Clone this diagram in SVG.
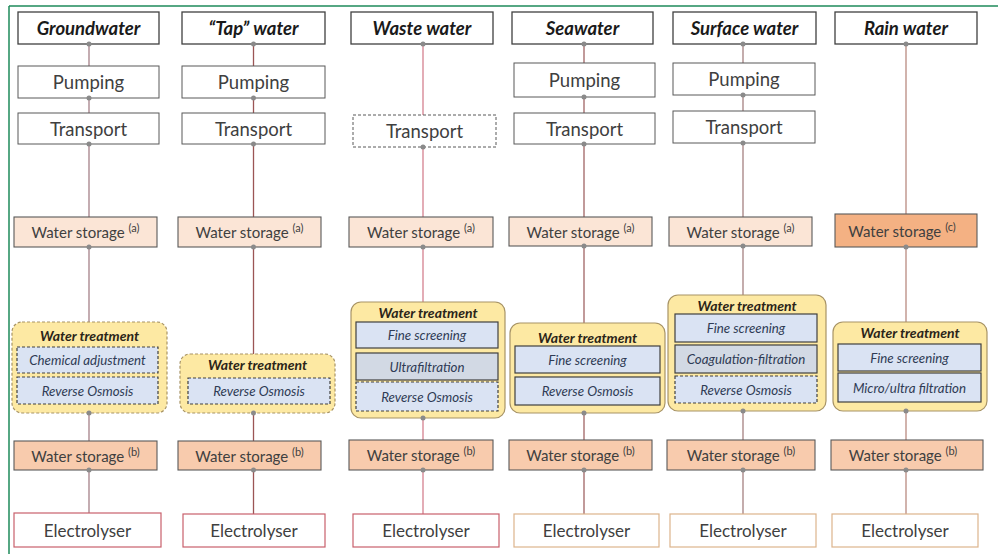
<svg xmlns="http://www.w3.org/2000/svg" width="998" height="554" viewBox="0 0 998 554">
<style>
  text { font-family: Lato, "Liberation Sans", sans-serif; text-anchor: middle; dominant-baseline: central; }
  .hdr rect { fill: #fff; stroke: #404040; stroke-width: 1.3; }
  .hdr text { font-size: 18.5px; font-weight: bold; font-style: italic; fill: #1a1a1a; }
  .step rect { fill: #fff; stroke: #595959; stroke-width: 1; }
  .step text { font-size: 18.5px; fill: #404040; }
  .dash rect { stroke-dasharray: 3 2; }
  .stA rect { fill: #fbe5d6; stroke: #595959; stroke-width: 1.1; }
  .stB rect { fill: #f8cbad; stroke: #595959; stroke-width: 1.1; }
  .stC rect { fill: #f4b183; stroke: #595959; stroke-width: 1.1; }
  .st text { font-size: 15px; fill: #404040; }
  .sup { font-size: 11px; }
  .wt > rect { fill: #fde9a3; stroke: #a89466; stroke-width: 1.2; }
  .wt.dashed > rect { stroke-dasharray: 3 2; }
  .wt > text { font-size: 14px; font-weight: bold; font-style: italic; fill: #2a2418; }
  .in rect { fill: #dae3f3; stroke: #404040; stroke-width: 1.2; }
  .in.grey rect { fill: #d2d9e4; }
  .in.dash rect { stroke-dasharray: 3 2; }
  .in text { font-size: 13.3px; font-style: italic; fill: #2f3b55; }
  .el rect { fill: #fff; stroke-width: 1.2; }
  .el.r rect { stroke: #c8606c; }
  .el.t rect { stroke: #dcb48c; }
  .el text { font-size: 17px; fill: #404040; }
  .conn line { stroke-width: 1.3; }
  .dot { fill: #8a8a8a; }
</style>

<g id="frame">
  <line x1="9" y1="6" x2="998" y2="6" stroke="#1e8a5a" stroke-width="1.5"/>
  <line x1="9" y1="6" x2="9" y2="554" stroke="#1e8a5a" stroke-width="1.5"/>
</g>

<g id="connectors" class="conn">
  <g stroke="#a58088">
    <line x1="89" y1="44" x2="89" y2="66"/>
    <line x1="89" y1="98" x2="89" y2="113"/>
    <line x1="89" y1="144" x2="89" y2="217"/>
    <line x1="89" y1="247" x2="89" y2="322"/>
    <line x1="89" y1="413" x2="89" y2="441"/>
    <line x1="89" y1="470" x2="89" y2="513"/>
  </g>
  <g stroke="#9b5555">
    <line x1="253.5" y1="44" x2="253.5" y2="66"/>
    <line x1="253.5" y1="98" x2="253.5" y2="113"/>
    <line x1="253.5" y1="144" x2="253.5" y2="217"/>
    <line x1="253.5" y1="247" x2="253.5" y2="354"/>
    <line x1="253.5" y1="413" x2="253.5" y2="441"/>
    <line x1="253.5" y1="470" x2="253.5" y2="514"/>
  </g>
  <g stroke="#d4808f">
    <line x1="423" y1="44" x2="423" y2="115"/>
    <line x1="423" y1="147" x2="423" y2="217"/>
    <line x1="423" y1="247" x2="423" y2="302"/>
    <line x1="423" y1="418" x2="423" y2="440"/>
    <line x1="423" y1="470" x2="423" y2="514"/>
  </g>
  <g stroke="#a06464">
    <line x1="584" y1="44" x2="584" y2="63"/>
    <line x1="584" y1="97" x2="584" y2="113"/>
    <line x1="584" y1="144" x2="584" y2="217"/>
    <line x1="584" y1="246" x2="584" y2="323"/>
    <line x1="584" y1="413" x2="584" y2="440"/>
    <line x1="584" y1="470" x2="584" y2="514"/>
  </g>
  <g stroke="#a58080">
    <line x1="743" y1="44" x2="743" y2="63"/>
    <line x1="743" y1="95" x2="743" y2="111"/>
    <line x1="743" y1="143" x2="743" y2="217"/>
    <line x1="743" y1="246" x2="743" y2="295"/>
    <line x1="743" y1="411" x2="743" y2="440"/>
    <line x1="743" y1="470" x2="743" y2="514"/>
  </g>
  <g stroke="#b88a80">
    <line x1="906" y1="44" x2="906" y2="214"/>
    <line x1="906" y1="247" x2="906" y2="322"/>
    <line x1="906" y1="411" x2="906" y2="440"/>
    <line x1="906" y1="470" x2="906" y2="514"/>
  </g>
</g>

<!-- Column 1: Groundwater -->
<g id="gw-head" class="hdr"><rect x="18" y="12" width="141" height="32"/><text x="88.5" y="28">Groundwater</text></g>
<g id="gw-pump" class="step"><rect x="18" y="66" width="141" height="32"/><text x="88.5" y="82">Pumping</text></g>
<g id="gw-trans" class="step"><rect x="18" y="113" width="141" height="31"/><text x="88.5" y="128.5">Transport</text></g>
<g id="gw-stA" class="st stA"><rect x="14" y="217" width="143" height="30"/><text x="85.5" y="232">Water storage <tspan class="sup" dy="-5">(a)</tspan></text></g>
<g id="gw-wt" class="wt dashed"><rect x="12" y="322" width="155" height="91" rx="10"/><text x="89.5" y="335">Water treatment</text>
  <g class="in dash"><rect x="17" y="347" width="141" height="26"/><text x="87.5" y="360">Chemical adjustment</text></g>
  <g class="in dash"><rect x="17" y="377" width="141" height="27"/><text x="87.5" y="390.5">Reverse Osmosis</text></g>
</g>
<g id="gw-stB" class="st stB"><rect x="14" y="441" width="143" height="29"/><text x="85.5" y="455.5">Water storage <tspan class="sup" dy="-5">(b)</tspan></text></g>
<g id="gw-el" class="el r"><rect x="14" y="513" width="147" height="34"/><text x="87.5" y="530">Electrolyser</text></g>

<!-- Column 2: Tap water -->
<g id="tap-head" class="hdr"><rect x="182" y="12" width="143" height="32"/><text x="253.5" y="28">“Tap” water</text></g>
<g id="tap-pump" class="step"><rect x="182" y="66" width="143" height="32"/><text x="253.5" y="82">Pumping</text></g>
<g id="tap-trans" class="step"><rect x="182" y="113" width="143" height="31"/><text x="253.5" y="128.5">Transport</text></g>
<g id="tap-stA" class="st stA"><rect x="178" y="217" width="143" height="30"/><text x="249.5" y="232">Water storage <tspan class="sup" dy="-5">(a)</tspan></text></g>
<g id="tap-wt" class="wt dashed"><rect x="180" y="354" width="155" height="59" rx="10"/><text x="257.5" y="364.5">Water treatment</text>
  <g class="in dash"><rect x="188" y="378" width="142" height="26"/><text x="259" y="391">Reverse Osmosis</text></g>
</g>
<g id="tap-stB" class="st stB"><rect x="178" y="441" width="143" height="29"/><text x="249.5" y="455.5">Water storage <tspan class="sup" dy="-5">(b)</tspan></text></g>
<g id="tap-el" class="el r"><rect x="183" y="514" width="142" height="33"/><text x="254" y="530.5">Electrolyser</text></g>

<!-- Column 3: Waste water -->
<g id="ww-head" class="hdr"><rect x="351" y="12" width="142" height="32"/><text x="422" y="28">Waste water</text></g>
<g id="ww-trans" class="step dash"><rect x="353" y="115" width="143" height="32"/><text x="424.5" y="131">Transport</text></g>
<g id="ww-stA" class="st stA"><rect x="349" y="217" width="144" height="30"/><text x="421" y="232">Water storage <tspan class="sup" dy="-5">(a)</tspan></text></g>
<g id="ww-wt" class="wt"><rect x="351" y="302" width="154" height="116" rx="10"/><text x="428" y="312">Water treatment</text>
  <g class="in"><rect x="356" y="322" width="142" height="26"/><text x="427" y="335">Fine screening</text></g>
  <g class="in grey"><rect x="356" y="353" width="142" height="27"/><text x="427" y="366.5">Ultrafiltration</text></g>
  <g class="in dash"><rect x="356" y="382" width="142" height="29"/><text x="427" y="396.5">Reverse Osmosis</text></g>
</g>
<g id="ww-stB" class="st stB"><rect x="349" y="440" width="144" height="30"/><text x="421" y="455">Water storage <tspan class="sup" dy="-5">(b)</tspan></text></g>
<g id="ww-el" class="el r"><rect x="353" y="514" width="146" height="33"/><text x="426" y="530.5">Electrolyser</text></g>

<!-- Column 4: Seawater -->
<g id="sw-head" class="hdr"><rect x="512" y="12" width="141" height="32"/><text x="582.5" y="28">Seawater</text></g>
<g id="sw-pump" class="step"><rect x="514" y="63" width="141" height="34"/><text x="584.5" y="80">Pumping</text></g>
<g id="sw-trans" class="step"><rect x="514" y="113" width="141" height="31"/><text x="584.5" y="128.5">Transport</text></g>
<g id="sw-stA" class="st stA"><rect x="509" y="217" width="143" height="29"/><text x="580.5" y="231.5">Water storage <tspan class="sup" dy="-5">(a)</tspan></text></g>
<g id="sw-wt" class="wt"><rect x="510" y="323" width="155" height="90" rx="10"/><text x="587.5" y="337">Water treatment</text>
  <g class="in"><rect x="515" y="346" width="145" height="27"/><text x="587.5" y="359.5">Fine screening</text></g>
  <g class="in"><rect x="515" y="377" width="145" height="28"/><text x="587.5" y="391">Reverse Osmosis</text></g>
</g>
<g id="sw-stB" class="st stB"><rect x="509" y="440" width="143" height="30"/><text x="580.5" y="455">Water storage <tspan class="sup" dy="-5">(b)</tspan></text></g>
<g id="sw-el" class="el t"><rect x="514" y="514" width="145" height="33"/><text x="586.5" y="530.5">Electrolyser</text></g>

<!-- Column 5: Surface water -->
<g id="sf-head" class="hdr"><rect x="673" y="12" width="143" height="32"/><text x="744.5" y="28">Surface water</text></g>
<g id="sf-pump" class="step"><rect x="673" y="63" width="142" height="32"/><text x="744" y="79">Pumping</text></g>
<g id="sf-trans" class="step"><rect x="673" y="111" width="142" height="32"/><text x="744" y="127">Transport</text></g>
<g id="sf-stA" class="st stA"><rect x="669" y="217" width="143" height="29"/><text x="740.5" y="231.5">Water storage <tspan class="sup" dy="-5">(a)</tspan></text></g>
<g id="sf-wt" class="wt"><rect x="668" y="295" width="158" height="116" rx="10"/><text x="747" y="305">Water treatment</text>
  <g class="in"><rect x="675" y="314" width="142" height="28"/><text x="746" y="328">Fine screening</text></g>
  <g class="in grey"><rect x="675" y="345" width="142" height="28"/><text x="746" y="359">Coagulation-filtration</text></g>
  <g class="in dash"><rect x="675" y="376" width="142" height="27"/><text x="746" y="389.5">Reverse Osmosis</text></g>
</g>
<g id="sf-stB" class="st stB"><rect x="667" y="440" width="148" height="30"/><text x="741" y="455">Water storage <tspan class="sup" dy="-5">(b)</tspan></text></g>
<g id="sf-el" class="el t"><rect x="670" y="514" width="146" height="33"/><text x="743" y="530.5">Electrolyser</text></g>

<!-- Column 6: Rain water -->
<g id="rw-head" class="hdr"><rect x="835" y="12" width="142" height="32"/><text x="906" y="28">Rain water</text></g>
<g id="rw-stC" class="st stC"><rect x="835" y="214" width="142" height="33"/><text x="902" y="230.5">Water storage <tspan class="sup" dy="-5">(c)</tspan></text></g>
<g id="rw-wt" class="wt"><rect x="833" y="322" width="154" height="89" rx="10"/><text x="910" y="332">Water treatment</text>
  <g class="in"><rect x="838" y="344" width="143" height="27"/><text x="909.5" y="357.5">Fine screening</text></g>
  <g class="in"><rect x="838" y="373" width="143" height="29"/><text x="909.5" y="387.5">Micro/ultra filtration</text></g>
</g>
<g id="rw-stB" class="st stB"><rect x="831" y="440" width="152" height="30"/><text x="903" y="455">Water storage <tspan class="sup" dy="-5">(b)</tspan></text></g>
<g id="rw-el" class="el t"><rect x="832" y="514" width="146" height="33"/><text x="905" y="530.5">Electrolyser</text></g>

<g id="dots">
  <circle class="dot" cx="89" cy="44" r="2.5"/><circle class="dot" cx="89" cy="98" r="2.5"/><circle class="dot" cx="89" cy="144" r="2.5"/><circle class="dot" cx="89" cy="247" r="2.5"/><circle class="dot" cx="89" cy="413" r="2.5"/><circle class="dot" cx="89" cy="470" r="2.5"/>
  <circle class="dot" cx="253.5" cy="44" r="2.5"/><circle class="dot" cx="253.5" cy="98" r="2.5"/><circle class="dot" cx="253.5" cy="144" r="2.5"/><circle class="dot" cx="253.5" cy="247" r="2.5"/><circle class="dot" cx="253.5" cy="413" r="2.5"/><circle class="dot" cx="253.5" cy="470" r="2.5"/>
  <circle class="dot" cx="423" cy="44" r="2.5"/><circle class="dot" cx="423" cy="147" r="2.5"/><circle class="dot" cx="423" cy="247" r="2.5"/><circle class="dot" cx="423" cy="418" r="2.5"/><circle class="dot" cx="423" cy="470" r="2.5"/>
  <circle class="dot" cx="584" cy="44" r="2.5"/><circle class="dot" cx="584" cy="97" r="2.5"/><circle class="dot" cx="584" cy="144" r="2.5"/><circle class="dot" cx="584" cy="246" r="2.5"/><circle class="dot" cx="584" cy="413" r="2.5"/><circle class="dot" cx="584" cy="470" r="2.5"/>
  <circle class="dot" cx="743" cy="44" r="2.5"/><circle class="dot" cx="743" cy="95" r="2.5"/><circle class="dot" cx="743" cy="143" r="2.5"/><circle class="dot" cx="743" cy="246" r="2.5"/><circle class="dot" cx="743" cy="411" r="2.5"/><circle class="dot" cx="743" cy="470" r="2.5"/>
  <circle class="dot" cx="906" cy="44" r="2.5"/><circle class="dot" cx="906" cy="247" r="2.5"/><circle class="dot" cx="906" cy="411" r="2.5"/><circle class="dot" cx="906" cy="470" r="2.5"/>
</g>
</svg>
